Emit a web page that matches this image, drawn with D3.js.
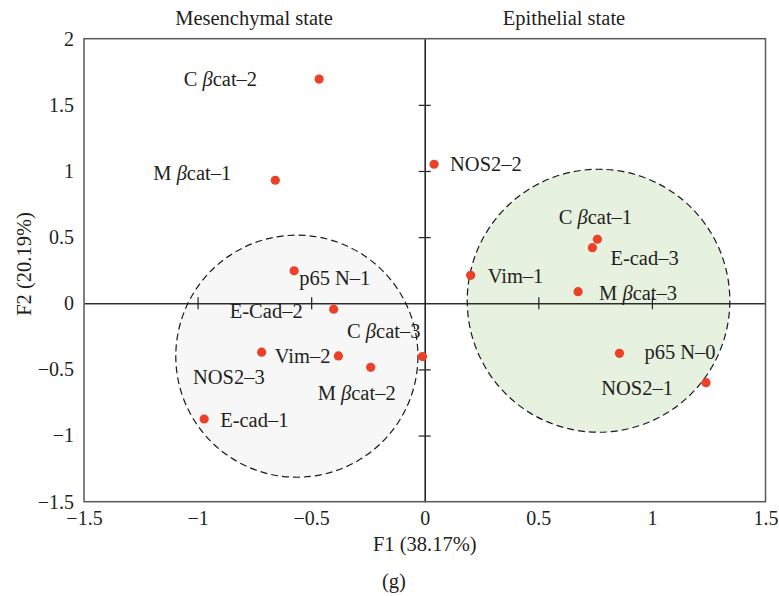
<!DOCTYPE html>
<html>
<head>
<meta charset="utf-8">
<script src="https://cdn.jsdelivr.net/npm/d3@7"></script>
<style>
  body { margin: 0; background: #fff; }
  text { font-family: "Liberation Serif", "DejaVu Serif", serif; fill: #231f20; }
</style>
</head>
<body>
<svg width="779" height="596"></svg>
<script>
// DATA
const names = ["C βcat–2", "M βcat–1", "NOS2–2", "p65 N–1", "E-Cad–2", "Vim–2", "NOS2–3", "M βcat–2",
               "C βcat–3", "E-cad–1", "Vim–1", "C βcat–1", "E-cad–3", "M βcat–3", "p65 N–0", "NOS2–1"];
const f1 = [-0.465, -0.658, 0.041, -0.575, -0.401, -0.380, -0.718, -0.238,
            -0.010, -0.971, 0.202, 0.760, 0.738, 0.675, 0.857, 1.238];
const f2 = [1.695, 0.930, 1.051, 0.246, -0.045, -0.398, -0.370, -0.484,
            -0.403, -0.875, 0.211, 0.484, 0.420, 0.088, -0.378, -0.600];
const xTicks = [-1.5, -1, -0.5, 0, 0.5, 1, 1.5];
const yTicks = [-1.5, -1, -0.5, 0, 0.5, 1, 1.5, 2];
// groups (centre and radii in F1/F2 units)
const groups = [
  { name: "Mesenchymal state", cx: -0.563, cy: -0.400, rx: 0.533, ry: 0.915, fill: "#f7f7f7" },
  { name: "Epithelial state",  cx: 0.765,  cy: 0.019,  rx: 0.578, ry: 0.994, fill: "#e6f1df" }
];

// label placement relative to each point
const labelPos = [
  ["end", -62, 7], ["end", -44, 0], ["start", 16, 7], ["start", 5, 14],
  ["end", -31, 9], ["end", -8, 7], ["end", 3, 32], ["middle", -14, 33],
  ["end", -2, -19], ["start", 16, 8], ["start", 17, 8], ["middle", -2, -15],
  ["start", 18, 17], ["start", 21, 8], ["start", 25, 6], ["end", -33, 12]
];

const points = names.map((n, i) => ({ name: n, x: f1[i], y: f2[i], pos: labelPos[i] }));

const svg = d3.select("svg");
const mLeft = 84, mRight = 765.5, mTop = 38.7, mBottom = 501.7;

const x = d3.scaleLinear().domain([-1.5, 1.5]).range([mLeft, mRight]);
const y = d3.scaleLinear().domain([-1.5, 2]).range([mBottom, mTop]);
const fmt = d3.format("~g");

// GROUP ELLIPSES
svg.selectAll("ellipse")
  .data(groups)
  .enter()
  .append("ellipse")
    .attr("cx", d => x(d.cx))
    .attr("cy", d => y(d.cy))
    .attr("rx", d => x(d.rx) - x(0))
    .attr("ry", d => y(0) - y(d.ry))
    .attr("fill", d => d.fill)
    .attr("stroke", "#1a1a1a")
    .attr("stroke-width", 1.2)
    .attr("stroke-dasharray", "7,4");

// ZERO LINES WITH CROSS TICKS
const inner = [-1, -0.5, 0.5, 1];
[6, -6].forEach(s => {
  svg.append("g")
    .attr("transform", `translate(0, ${y(0)})`)
    .call(d3.axisBottom(x).tickValues(inner).tickSize(s).tickSizeOuter(0).tickFormat(""))
    .call(g => g.selectAll("line,path").attr("stroke", "#231f20").attr("stroke-width", 1.2));
  svg.append("g")
    .attr("transform", `translate(${x(0)}, 0)`)
    .call(d3.axisLeft(y).tickValues([-1, -0.5, 0.5, 1, 1.5]).tickSize(s).tickSizeOuter(0).tickFormat(""))
    .call(g => g.selectAll("line,path").attr("stroke", "#231f20").attr("stroke-width", 1.2));
});

// FRAME
svg.append("rect")
  .attr("x", mLeft).attr("y", mTop)
  .attr("width", mRight - mLeft).attr("height", mBottom - mTop)
  .attr("fill", "none")
  .attr("stroke", "#58585a")
  .attr("stroke-width", 1.5);

// TICK LABELS
svg.append("g")
  .attr("transform", `translate(0, ${mBottom})`)
  .call(d3.axisBottom(x).tickValues(xTicks).tickSize(0).tickPadding(9).tickFormat(fmt))
  .call(g => g.select(".domain").remove())
  .call(g => g.selectAll("text").attr("font-size", 20).attr("font-family", null).attr("fill", null));

svg.append("g")
  .attr("transform", `translate(${mLeft}, 0)`)
  .call(d3.axisLeft(y).tickValues(yTicks).tickSize(0).tickPadding(10).tickFormat(fmt))
  .call(g => g.select(".domain").remove())
  .call(g => g.selectAll("text").attr("font-size", 20).attr("font-family", null).attr("fill", null));

// POINTS
svg.selectAll("circle.pt")
  .data(points)
  .enter()
  .append("circle")
    .attr("class", "pt")
    .attr("cx", d => x(d.x))
    .attr("cy", d => y(d.y))
    .attr("r", 4.6)
    .attr("fill", "#ec4128");

// POINT LABELS (beta in italics)
const lab = svg.selectAll("text.lab")
  .data(points)
  .enter()
  .append("text")
    .attr("class", "lab")
    .attr("x", d => x(d.x) + d.pos[1])
    .attr("y", d => y(d.y) + d.pos[2])
    .attr("text-anchor", d => d.pos[0])
    .style("font-size", "20.5px");

lab.each(function(d) {
  const parts = d.name.split("β");
  const t = d3.select(this);
  t.append("tspan").text(parts[0]);
  if (parts.length > 1) {
    t.append("tspan").style("font-style", "italic").text("β");
    t.append("tspan").text(parts[1]);
  }
});

// GROUP TITLES
svg.selectAll("text.grp")
  .data(groups)
  .enter()
  .append("text")
    .attr("class", "grp")
    .attr("x", (d, i) => i === 0 ? 254 : 564)
    .attr("y", 25)
    .attr("text-anchor", "middle")
    .style("font-size", "20.5px")
    .text(d => d.name);

// AXIS TITLES
svg.append("text")
  .attr("x", (mLeft + mRight) / 2)
  .attr("y", 551)
  .attr("text-anchor", "middle")
  .style("font-size", "20.5px")
  .text("F1 (38.17%)");

svg.append("text")
  .attr("transform", "rotate(-90)")
  .attr("x", -264)
  .attr("y", 31)
  .attr("text-anchor", "middle")
  .style("font-size", "20.5px")
  .text("F2 (20.19%)");

svg.append("text")
  .attr("x", 394)
  .attr("y", 588)
  .attr("text-anchor", "middle")
  .style("font-size", "20.5px")
  .text("(g)");
</script>
</body>
</html>
